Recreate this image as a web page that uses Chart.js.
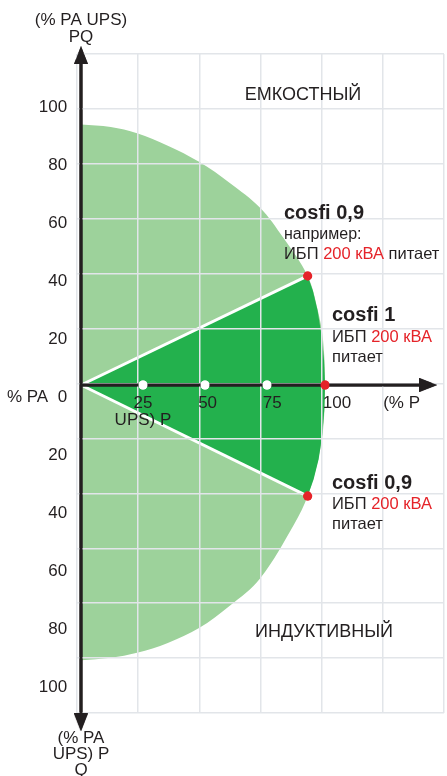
<!DOCTYPE html>
<html lang="ru">
<head>
<meta charset="utf-8">
<script src="https://cdn.jsdelivr.net/npm/chart.js@4.4.1/dist/chart.umd.min.js"></script>
<style>
  html, body { margin: 0; padding: 0; background: #fff; }
</style>
</head>
<body>
<canvas id="chPQ" width="447" height="776"></canvas>
<script>
// ============ 数据 ============
// 横轴刻度 (% P)
const pTicks = [25, 50, 75, 100, 125];
const pTickLabels = [['25', 'UPS) P'], '50', '75', '100', '(% P'];
// 纵轴刻度 (% Q)
const qTicks = [100, 80, 60, 40, 20, 0, -20, -40, -60, -80, -100];
const qTickLabels = ['100', '80', '60', '40', '20', '% PA  0', '20', '40', '60', '80', '100'];

// 容量边界 (P, Q)
const capP = [0, 12, 22.6, 35, 47.6, 60, 72.2, 81.5, 91.4, 95.5, 97.6, 98.4, 97.6, 95.6, 91.4, 86, 72.2, 60, 47.6, 35, 22.6, 12, 0];
const capQ = [105, 104, 101.5, 96.5, 90, 81.5, 71.5, 59.5, 44, 30, 18, 0, -18, -30, -44.8, -56, -78, -89, -98, -104, -108, -110, -111];

// cosfi 0,9 ... cosfi 0,9 扇区
const sectorP = [0, 91.4, 93.5, 95.4, 97, 98, 98.4, 98.1, 97.3, 95.8, 93.8, 91.4, 0];
const sectorQ = [0, 44, 38, 30, 20, 10, 0, -10, -20, -30, -38, -44.8, 0];

// 射线、坐标轴、箭头
const rayUpP = [0, 91.4], rayUpQ = [0, 44];
const rayDownP = [0, 91.4], rayDownQ = [0, -44.8];
const axisVP = [0, 0], axisVQ = [133, -136];
const axisHP = [0, 140], axisHQ = [0, 0];
const arrowP = [0, 0, 140], arrowQ = [133, -136, 0], arrowRot = [0, 180, 90];

// 工作点
const whiteP = [25, 50, 75], whiteQ = [0, 0, 0];
const redP = [91.4, 98.4, 91.4], redQ = [44, 0, -44.8];

// ============ 样式 ============
const FONT = "'Liberation Sans', Arial, sans-serif";
const INK = '#231f20';
const RED = '#e52329';
const LIGHT = '#9dd29b';
const DARK = '#23b14d';
const GRID = '#e2e5e9';

const xy = (ps, qs) => ps.map((p, i) => ({ x: p, y: qs[i] }));

function arrowHead() {
  const c = document.createElement('canvas');
  c.width = 14; c.height = 18;
  const g = c.getContext('2d');
  g.fillStyle = INK;
  g.beginPath(); g.moveTo(7, 0); g.lineTo(14, 18); g.lineTo(0, 18); g.closePath(); g.fill();
  return c;
}

const base = { xAxisID: 'x', yAxisID: 'y', pointRadius: 0 };
const datasets = [
  { ...base, data: xy(capP, capQ), showLine: true, fill: 'shape', backgroundColor: LIGHT, borderWidth: 0, tension: 0.35, order: 9 },
  { ...base, data: xy(sectorP, sectorQ), showLine: true, fill: 'shape', backgroundColor: DARK, borderWidth: 0, tension: 0, order: 8 },
  { ...base, data: xy(rayUpP, rayUpQ), showLine: true, borderColor: '#fff', borderWidth: 3, order: 7 },
  { ...base, data: xy(rayDownP, rayDownQ), showLine: true, borderColor: '#fff', borderWidth: 3, order: 7 },
  { ...base, data: xy(axisVP, axisVQ), showLine: true, borderColor: INK, borderWidth: 3, clip: false, onTop: true, order: 4 },
  { ...base, data: xy(axisHP, axisHQ), showLine: true, borderColor: INK, borderWidth: 3, clip: false, onTop: true, order: 4 },
  { ...base, data: xy(arrowP, arrowQ), pointStyle: arrowHead(), pointRadius: 10, pointBorderWidth: 0, pointRotation: arrowRot, clip: false, onTop: true, order: 3 },
  { ...base, data: xy(whiteP, whiteQ), pointRadius: 4.5, pointBackgroundColor: '#fff', pointBorderWidth: 0, onTop: true, order: 2 },
  { ...base, data: xy(redP, redQ), pointRadius: 4.5, pointBackgroundColor: RED, pointBorderWidth: 0, clip: false, onTop: true, order: 1 },
];

function runs(ctx, x, y, parts) {
  ctx.textAlign = 'left';
  parts.forEach(([t, c]) => {
    ctx.fillStyle = c;
    ctx.fillText(t, x, y);
    x += ctx.measureText(t).width;
  });
}

// 叠加层：坐标轴压在网格上，再写文字
const overlay = {
  id: 'overlay',
  afterDraw(chart) {
    const { ctx } = chart;
    chart.data.datasets.forEach((ds, i) => {
      if (ds.onTop) chart.getDatasetMeta(i).controller.draw();
    });
    ctx.save();
    ctx.textBaseline = 'middle';
    ctx.fillStyle = INK;
    ctx.textAlign = 'center';
    ctx.font = `17px ${FONT}`;
    ctx.fillText('(% PA UPS)', 81, 20);
    ctx.fillText('PQ', 81, 37);
    ctx.fillText('(% PA', 81, 738);
    ctx.fillText('UPS) P', 81, 754);
    ctx.fillText('Q', 81, 770);
    ctx.font = `18px ${FONT}`;
    ctx.fillText('ЕМКОСТНЫЙ', 303, 95);
    ctx.fillText('ИНДУКТИВНЫЙ', 324, 632);

    ctx.font = `bold 20px ${FONT}`;
    runs(ctx, 284, 213, [['cosfi 0,9', INK]]);
    runs(ctx, 332, 315, [['cosfi 1', INK]]);
    runs(ctx, 332, 483, [['cosfi 0,9', INK]]);

    ctx.font = `16px ${FONT}`;
    runs(ctx, 284, 235, [['например:', INK]]);
    ctx.font = `16.5px ${FONT}`;
    runs(ctx, 284, 254, [['ИБП ', INK], ['200 кВА', RED], [' питает', INK]]);
    runs(ctx, 332, 337, [['ИБП ', INK], ['200 кВА', RED]]);
    runs(ctx, 332, 357, [['питает', INK]]);
    runs(ctx, 332, 504, [['ИБП ', INK], ['200 кВА', RED]]);
    runs(ctx, 332, 524, [['питает', INK]]);
    ctx.restore();
  }
};

const gridAxis = (axis, max, position) => ({
  axis, type: 'linear', position, min: 0, max,
  ticks: { display: false, stepSize: 1 },
  grid: { color: GRID, lineWidth: 1.5, drawTicks: false, z: 1 },
  border: { display: false }
});

// 标签轴不占用绘图区边距
const noPad = s => { s.paddingLeft = s.paddingRight = s.paddingTop = s.paddingBottom = 0; };

new Chart(document.getElementById('chPQ'), {
  type: 'scatter',
  data: { datasets },
  options: {
    responsive: false,
    animation: false,
    events: [],
    layout: { autoPadding: false, padding: { left: 77, right: 3, top: 54, bottom: 63 } },
    plugins: { legend: { display: false }, tooltip: { enabled: false } },
    scales: {
      x: { type: 'linear', display: false, min: -1.61, max: 146.37 },
      y: { type: 'linear', display: false, min: -132.26, max: 133.47 },
      xg: gridAxis('x', 6, 'bottom'),
      yg: gridAxis('y', 12, 'left'),
      xl: {
        axis: 'x', type: 'linear', position: { y: 0 }, min: -0.5, max: 141.4,
        afterBuildTicks: s => { s.ticks = pTicks.map(v => ({ value: v })); },
        afterFit: noPad,
        ticks: {
          callback: v => pTickLabels[pTicks.indexOf(v)],
          font: { size: 17, family: FONT, lineHeight: 1.0 }, color: INK,
          padding: 10, autoSkip: false, maxRotation: 0, z: 2
        },
        grid: { display: false, drawTicks: false },
        border: { display: false }
      },
      yl: {
        axis: 'y', type: 'linear', position: { x: -5.6 }, min: -108.97, max: 118.28,
        afterBuildTicks: s => { s.ticks = qTicks.map(v => ({ value: v })); },
        afterFit: noPad,
        ticks: {
          callback: v => qTickLabels[qTicks.indexOf(v)],
          font: { size: 17, family: FONT }, color: INK,
          autoSkip: false, z: 2
        },
        grid: { display: false, drawTicks: false },
        border: { display: false }
      }
    }
  },
  plugins: [overlay]
});
</script>
</body>
</html>
